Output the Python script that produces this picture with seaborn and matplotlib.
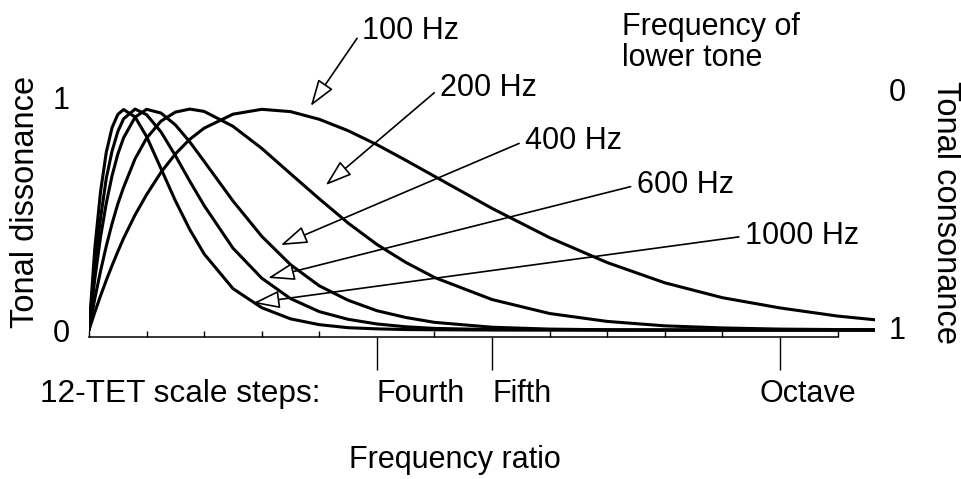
import matplotlib
matplotlib.use("Agg")
import matplotlib.pyplot as plt
import matplotlib.transforms as mtransforms
import pandas as pd
import seaborn as sns

# ---- data ----
semitones = [0, 0.1, 0.2, 0.3, 0.4, 0.5, 0.6, 0.8, 1.0, 1.25, 1.5, 1.75, 2, 2.5, 3,
             3.5, 4, 4.5, 5, 5.5, 6, 7, 8, 9, 10, 11, 12, 13, 13.65]
d100 = [0, 0.076, 0.147, 0.214, 0.277, 0.337, 0.394, 0.495, 0.582, 0.678, 0.757, 0.820,
        0.868, 0.928, 0.949, 0.939, 0.906, 0.857, 0.797, 0.730, 0.661, 0.523, 0.397,
        0.290, 0.203, 0.139, 0.095, 0.060, 0.044]
d200 = [0, 0.134, 0.253, 0.361, 0.457, 0.542, 0.613, 0.736, 0.825, 0.898, 0.937, 0.950,
        0.940, 0.876, 0.781, 0.672, 0.564, 0.460, 0.368, 0.291, 0.226, 0.131, 0.071,
        0.037, 0.018, 0.009, 0.004, 0.002, 0.001]
d400 = [0, 0.218, 0.399, 0.545, 0.663, 0.756, 0.826, 0.915, 0.949, 0.933, 0.882, 0.809,
        0.725, 0.555, 0.403, 0.281, 0.190, 0.128, 0.083, 0.054, 0.033, 0.012, 0.004,
        0.001, 0.0, 0.0, 0.0, 0.0, 0.0]
d600 = [0, 0.275, 0.480, 0.652, 0.769, 0.853, 0.908, 0.950, 0.926, 0.852, 0.750, 0.640,
        0.535, 0.352, 0.223, 0.135, 0.079, 0.046, 0.026, 0.014, 0.007, 0.002, 0.001,
        0.0, 0.0, 0.0, 0.0, 0.0, 0.0]
d1000 = [0, 0.349, 0.594, 0.764, 0.870, 0.927, 0.948, 0.916, 0.832, 0.694, 0.556, 0.432,
         0.327, 0.178, 0.096, 0.048, 0.023, 0.010, 0.005, 0.002, 0.001, 0.0, 0.0, 0.0,
         0.0, 0.0, 0.0, 0.0, 0.0]

freq_labels = ["100 Hz", "200 Hz", "400 Hz", "600 Hz", "1000 Hz"]
curves = [d100, d200, d400, d600, d1000]

# annotation anchors (arrow tips on curves, label positions)
tip_x = [3.85, 4.11, 3.33, 3.11, 2.85]
tip_y = [0.963, 0.623, 0.365, 0.224, 0.116]
lab_x = [4.74, 6.09, 7.57, 9.51, 11.39]
lab_y = [1.285, 1.040, 0.813, 0.623, 0.404]

interval_names = ["Fourth", "Fifth", "Octave"]
interval_steps = [5, 7, 12]
interval_label_x = [5, 7, 11.65]
step_ticks = list(range(0, 14))

FS = 22

sns.set_theme(style="white")
plt.rcParams["font.family"] = ["Liberation Sans", "DejaVu Sans"]

rows = []
for name, vals in zip(freq_labels, curves):
    for s, v in zip(semitones, vals):
        rows.append({"step": s, "dis": v, "freq": name})
df = pd.DataFrame(rows)

fig = plt.figure(figsize=(9.61, 4.79), dpi=100)
ax = fig.add_axes([0.09261, 0.29645, 0.81790, 0.53653])

sns.lineplot(data=df, x="step", y="dis", hue="freq", hue_order=freq_labels,
             palette=["black"] * 5, linewidth=2.2, legend=False, sort=False,
             ax=ax)

ax.set_xlim(0, 13.65)
ax.set_ylim(-0.03, 1.075)
for sp in ["top", "right", "left"]:
    ax.spines[sp].set_visible(False)
ax.spines["bottom"].set_bounds(0, 13)
ax.spines["bottom"].set_color("black")
ax.spines["bottom"].set_linewidth(1.1)

ax.set_xticks(interval_steps)
ax.set_xticklabels([])
ax.set_xticks(step_ticks, minor=True)
ax.tick_params(axis="x", which="major", direction="out", length=24, width=1.0,
               color="black", bottom=True)
ax.tick_params(axis="x", which="minor", direction="in", length=4, width=1.0,
               color="black", bottom=True)
ax.set_xlabel("")

ax.set_yticks([0, 1])
ax.set_yticklabels(["0", "1"])
ax.tick_params(axis="y", length=0, pad=14, labelsize=FS, labelcolor="black", left=True)
ax.set_ylabel("Tonal dissonance", fontsize=23.5, color="black")
ax.yaxis.set_label_coords(-0.0814, 0.525)
ax.yaxis.label.set_va("center")

ax2 = ax.twinx()
ax2.set_ylim(1.042, -0.038)
for sp in ax2.spines.values():
    sp.set_visible(False)
ax2.set_yticks([0, 1])
ax2.set_yticklabels(["0", "1"])
ax2.tick_params(axis="y", length=0, pad=10, labelsize=FS, labelcolor="black", right=True)
ax2.set_ylabel("Tonal consonance", fontsize=23.5, color="black", rotation=270)
ax2.yaxis.set_label_coords(1.0903, 0.4825)
ax2.yaxis.label.set_va("center")
ax2.yaxis.label.set_ha("center")

blend = mtransforms.blended_transform_factory(ax.transData, fig.transFigure)
for name, x in zip(interval_names, interval_label_x):
    ax.text(x, 0.177, name, transform=blend, ha="left", va="center", fontsize=FS,
            color="black")

fig.text(0.333, 0.177, "12-TET scale steps:", ha="right", va="center", fontsize=22.8,
         color="black")
fig.text(0.4735, 0.040, "Frequency ratio", ha="center", va="center", fontsize=FS,
         color="black")
fig.text(0.647, 0.975, "Frequency of\nlower tone", ha="left", va="top", fontsize=FS,
         color="black", linespacing=1.05)

for name, tx, ty, lx, ly in zip(freq_labels, tip_x, tip_y, lab_x, lab_y):
    ax.annotate(name, xy=(tx, ty), xytext=(lx, ly), textcoords="data",
                ha="left", va="center", fontsize=FS, color="black",
                annotation_clip=False, zorder=5,
                arrowprops=dict(arrowstyle="-|>,head_length=0.75,head_width=0.25",
                                fc="white", ec="black", lw=1.2, shrinkA=2, shrinkB=0,
                                relpos=(0, 0.5)))

fig.savefig("out.png", dpi=100)
